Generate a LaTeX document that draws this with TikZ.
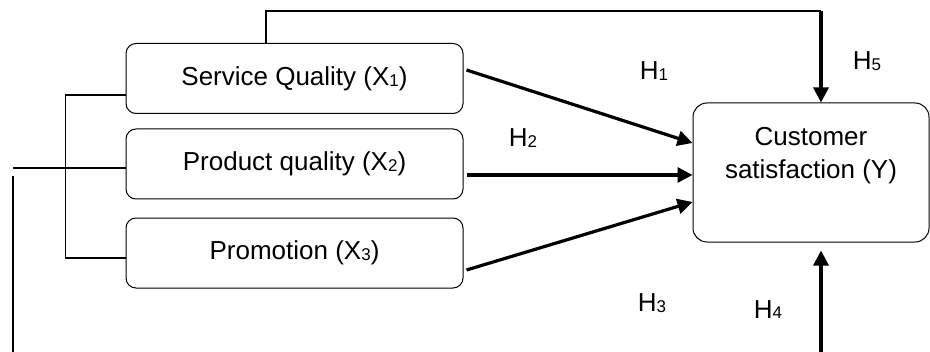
\documentclass[tikz,border=0pt]{standalone}
\usepackage{fontspec}
\setmainfont{Liberation Sans}
\usetikzlibrary{arrows.meta,calc}
\newcommand{\ix}[1]{\raisebox{-0.4pt}{\fontsize{8.5}{9}\selectfont #1}}

\begin{document}
\begin{tikzpicture}[x=0.5pt,y=-0.5pt,
        font=\fontsize{13}{16.5}\selectfont,
        varbox/.style={draw, rounded corners=5pt, line width=0.5pt, minimum width=168.5pt, minimum height=35pt, inner sep=0pt},
        ybox/.style={draw, rounded corners=7pt, line width=0.5pt, minimum width=118pt, minimum height=69.5pt, inner sep=0pt, align=center},
        link/.style={line width=0.65pt},
        hyp/.style={line width=1.6pt, -{Triangle[length=7.5pt,width=7.5pt]}},
        hlabel/.style={anchor=base, inner sep=0pt}]
        \useasboundingbox (0,0) rectangle (930,352);
        % variables
        \node[varbox] (X1) at (294.5,78.5) {Service Quality (X\ix{1})};
        \node[varbox] (X2) at (294.5,164) {Product quality (X\ix{2})};
        \node[varbox] (X3) at (294.5,253) {Promotion (X\ix{3})};
        \node[ybox] (Y) at (811,172.5) {Customer\\satisfaction (Y)\\[3pt]\mbox{}};
        % hypotheses
        \draw[hyp] ($(X1.east)+(3,-8.5)$) -- ($(Y.west)+(0,-29.5)$);
        \draw[hyp] ($(X2.east)+(3,11)$) -- ($(Y.west)+(0,2.5)$);
        \draw[hyp] ($(X3.east)+(3,17)$) -- ($(Y.west)+(0,29.5)$);
        \coordinate (top) at (821,11);
        \coordinate (bot) at (821,352);
        \draw[link] ($(X1.north)+(-28.5,0)$) |- (top);
        \draw[hyp] (top) -- ($(Y.north)+(10,0)$);
        \draw[hyp] (bot) -- ($(Y.south)+(10,8)$);
        % joint effect
        \draw[link] ($(X1.west)+(0,16.5)$) -- ++(-60,0) |- ($(X3.west)+(0,5)$);
        \coordinate (lt) at (13,176);
        \coordinate (lb) at (13,352);
        \draw[link] ($(X2.west)+(0,4)$) -- ++(-113,0);
        \draw[link] (lt) -- (lb);
        % labels
        \node[hlabel] (h1) at (654,80) {H\ix{1}};
        \node[hlabel] (h2) at (523,146.5) {H\ix{2}};
        \node[hlabel] (h3) at (652,311.5) {H\ix{3}};
        \node[hlabel] (h4) at (768,318) {H\ix{4}};
        \node[hlabel] (h5) at (867,70) {H\ix{5}};
\end{tikzpicture}
\end{document}
